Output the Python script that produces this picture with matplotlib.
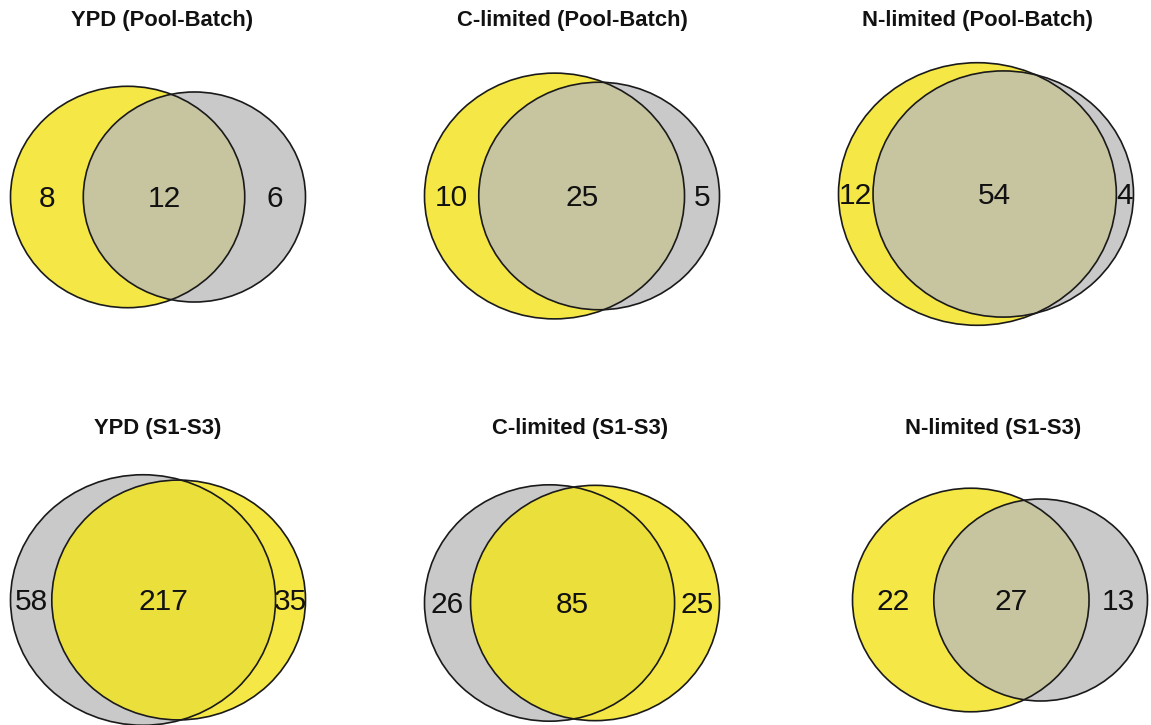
import numpy as np
import matplotlib
matplotlib.use("Agg")
import matplotlib.pyplot as plt
from matplotlib.patches import Ellipse

# ---- data: gene counts for each comparison ----
titles = [
    "YPD (Pool-Batch)", "C-limited (Pool-Batch)", "N-limited (Pool-Batch)",
    "YPD (S1-S3)", "C-limited (S1-S3)", "N-limited (S1-S3)",
]
yellow_only = [8, 10, 12, 35, 25, 22]
grey_only = [6, 5, 4, 58, 26, 13]
shared = [12, 25, 54, 217, 85, 27]
# which side the yellow set sits on in each diagram
yellow_side = ["left", "left", "left", "right", "right", "left"]

# ---- layout (pixels) ----
W, H = 1151, 725
panel_cx = [158, 572, 986, 158, 572, 1000]
panel_cy = [197, 196, 194, 600, 603, 600]
title_xy = [(162, 20), (572, 20), (978, 20), (158, 428), (580, 428), (993, 428)]
SPAN = 295          # horizontal extent of each diagram
X_STRETCH = 1.058   # diagrams are slightly wider than tall

YELLOW = (243 / 255, 228 / 255, 29 / 255)
GREY = (186 / 255, 186 / 255, 186 / 255)
ALPHA = {"yellow": 0.82, "grey": 0.78}
COLOR = {"yellow": YELLOW, "grey": GREY}
EDGE = "#1a1a1a"

plt.rcParams["font.family"] = ["Liberation Sans", "DejaVu Sans"]


def lens_area(r1, r2, d):
    if d >= r1 + r2:
        return 0.0
    if d <= abs(r1 - r2):
        return np.pi * min(r1, r2) ** 2
    a1 = r1 ** 2 * np.arccos((d * d + r1 * r1 - r2 * r2) / (2 * d * r1))
    a2 = r2 ** 2 * np.arccos((d * d + r2 * r2 - r1 * r1) / (2 * d * r2))
    k = 0.5 * np.sqrt((-d + r1 + r2) * (d + r1 - r2) * (d - r1 + r2) * (d + r1 + r2))
    return a1 + a2 - k


def solve_distance(r1, r2, target):
    lo, hi = abs(r1 - r2) + 1e-9, r1 + r2
    for _ in range(200):
        mid = 0.5 * (lo + hi)
        if lens_area(r1, r2, mid) > target:
            lo = mid
        else:
            hi = mid
    return 0.5 * (lo + hi)


fig = plt.figure(figsize=(W / 100, H / 100), dpi=100)
ax = fig.add_axes([0, 0, 1, 1])
ax.set_xlim(0, W)
ax.set_ylim(H, 0)
ax.axis("off")

for i in range(len(titles)):
    y_tot = yellow_only[i] + shared[i]
    g_tot = grey_only[i] + shared[i]
    if yellow_side[i] == "left":
        sets = ["yellow", "grey"]
        totals = [y_tot, g_tot]
        counts = [yellow_only[i], shared[i], grey_only[i]]
    else:
        sets = ["grey", "yellow"]
        totals = [g_tot, y_tot]
        counts = [grey_only[i], shared[i], yellow_only[i]]

    rl = np.sqrt(totals[0] / np.pi)
    rr = np.sqrt(totals[1] / np.pi)
    d = solve_distance(rl, rr, shared[i])

    left_edge = min(-rl, d - rr)
    right_edge = max(rl, d + rr)
    mid = 0.5 * (left_edge + right_edge)
    s = (SPAN / X_STRETCH) / (right_edge - left_edge)

    def px(u):
        return panel_cx[i] + (u - mid) * s * X_STRETCH

    cy = panel_cy[i]
    circles = [(0.0, rl), (d, rr)]

    for (u, r), name in zip(circles, sets):
        ax.add_patch(Ellipse((px(u), cy), 2 * r * s * X_STRETCH, 2 * r * s,
                             facecolor=COLOR[name], alpha=ALPHA[name],
                             edgecolor="none", zorder=1))
    for (u, r) in circles:
        ax.add_patch(Ellipse((px(u), cy), 2 * r * s * X_STRETCH, 2 * r * s,
                             facecolor="none", edgecolor=EDGE, lw=1.2, zorder=2))

    label_u = [(-rl + d - rr) / 2, (d - rr + rl) / 2, (rl + d + rr) / 2]
    for u, c in zip(label_u, counts):
        ax.text(px(u), cy + 2, str(c), ha="center", va="center",
                fontsize=21.5, color="#111111", zorder=3)

    tx, ty = title_xy[i]
    ax.text(tx, ty, titles[i], ha="center", va="center", fontsize=15.8,
            fontweight="bold", color="#111111")

fig.savefig("out.png", dpi=100, facecolor="white")
